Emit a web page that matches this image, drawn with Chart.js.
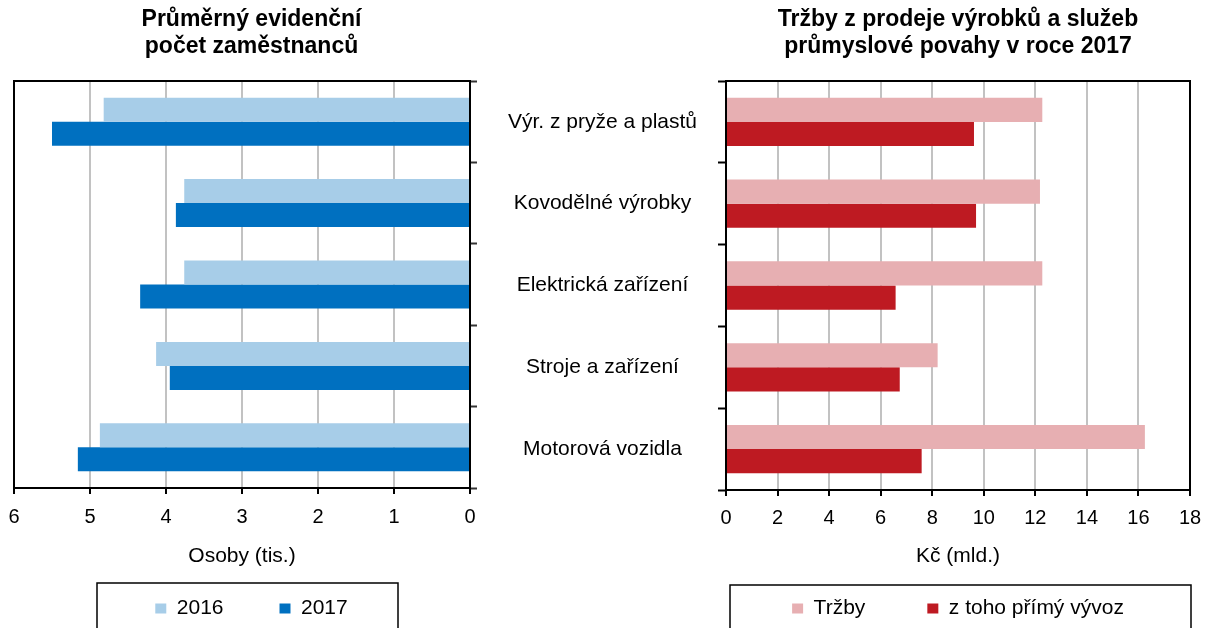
<!DOCTYPE html>
<html>
<head>
<meta charset="utf-8">
<script src="https://cdn.jsdelivr.net/npm/chart.js@4/dist/chart.umd.min.js"></script>
<style>
  html, body { margin: 0; padding: 0; background: #fff; width: 1206px; height: 628px; overflow: hidden; }
  #leftBox { position: absolute; left: 0; top: 0; width: 489px; height: 629px; }
  #rightBox { position: absolute; left: 480px; top: 0; width: 726px; height: 629px; }
</style>
</head>
<body>
<div id="leftBox"><canvas id="leftChart"></canvas></div>
<div id="rightBox"><canvas id="rightChart"></canvas></div>
<script>
// ---- data ----
const categories = ["Výr. z pryže a plastů", "Kovodělné výrobky", "Elektrická zařízení", "Stroje a zařízení", "Motorová vozidla"];
const employees2016 = [4.82, 3.76, 3.76, 4.13, 4.87];
const employees2017 = [5.50, 3.87, 4.34, 3.95, 5.16];
const revenue = [12.27, 12.18, 12.27, 8.21, 16.25];
const directExport = [9.62, 9.70, 6.58, 6.74, 7.59];
const leftTitle = ["Průměrný evidenční", "počet zaměstnanců"];
const rightTitle = ["Tržby z prodeje výrobků a služeb", "průmyslové povahy v roce 2017"];
const leftAxisTitle = "Osoby (tis.)";
const rightAxisTitle = "Kč (mld.)";
const leftLegend = ["2016", "2017"];
const rightLegend = ["Tržby", "z toho přímý vývoz"];

Chart.defaults.font.family = "'Liberation Sans', Arial, sans-serif";
Chart.defaults.font.size = 20;
Chart.defaults.color = '#000';

const framePlugin = {
  id: 'frame',
  afterDatasetsDraw(chart) {
    const {ctx, chartArea: {left, top, right, bottom}} = chart;
    ctx.save();
    ctx.strokeStyle = '#000';
    ctx.lineWidth = 2;
    ctx.strokeRect(left, top, right - left, bottom - top);
    ctx.restore();
  }
};
function legendFramePlugin(box) {
  return {
    id: 'legendFrame',
    afterDraw(chart) {
      const ctx = chart.ctx;
      ctx.save();
      ctx.strokeStyle = '#000';
      ctx.lineWidth = 1.5;
      ctx.strokeRect(box.x, box.y, box.w, box.h);
      ctx.restore();
    }
  };
}
function fixX(height) {
  return function (scale) {
    scale.height = height;
    scale.paddingLeft = 0;
    scale.paddingRight = 0;
  };
}

const gridGray = '#c2c2c2';
const titleFont = { size: 23, weight: 'bold', lineHeight: '27px' };

new Chart(document.getElementById('leftChart'), {
  type: 'bar',
  data: {
    labels: categories,
    datasets: [
      { label: leftLegend[0], data: employees2016, backgroundColor: '#a7cde8', borderWidth: 0 },
      { label: leftLegend[1], data: employees2017, backgroundColor: '#0070c0', borderWidth: 0 }
    ]
  },
  options: {
    indexAxis: 'y',
    responsive: true,
    maintainAspectRatio: false,
    animation: false,
    datasets: { bar: { categoryPercentage: 0.59, barPercentage: 1.0 } },
    layout: { padding: { left: 14, right: 0, top: 0, bottom: 0 } },
    scales: {
      x: {
        reverse: true,
        min: 0, max: 6,
        ticks: { stepSize: 1, padding: 11, font: { size: 20 }, color: '#000' },
        grid: { color: gridGray, lineWidth: 2, tickColor: '#000', tickLength: 6, tickWidth: 2 },
        border: { color: '#000', width: 2 },
        title: { display: true, text: leftAxisTitle, font: { size: 21 }, color: '#000', padding: { top: 0, bottom: -26.6 } },
        afterFit: fixX(54)
      },
      y: {
        position: 'right',
        ticks: { display: false },
        grid: { drawOnChartArea: false, offset: true, tickLength: 7, tickColor: '#333', tickWidth: 2 },
        border: { color: '#000', width: 2 },
        afterFit(scale) { scale.width = 19; }
      }
    },
    plugins: {
      title: {
        display: true, text: leftTitle, color: '#000',
        font: titleFont,
        padding: { top: 6.5, bottom: 20.5 }
      },
      legend: {
        position: 'bottom',
        align: 'center',
        labels: { boxWidth: 11, boxHeight: 10, padding: 56, font: { size: 21 }, color: '#000' }
      },
      tooltip: { enabled: false }
    }
  },
  plugins: [framePlugin, legendFramePlugin({ x: 97, y: 583, w: 301, h: 80 })]
});

new Chart(document.getElementById('rightChart'), {
  type: 'bar',
  data: {
    labels: categories,
    datasets: [
      { label: rightLegend[0], data: revenue, backgroundColor: '#e7afb2', borderWidth: 0 },
      { label: rightLegend[1], data: directExport, backgroundColor: '#be1a22', borderWidth: 0 }
    ]
  },
  options: {
    indexAxis: 'y',
    responsive: true,
    maintainAspectRatio: false,
    animation: false,
    datasets: { bar: { categoryPercentage: 0.59, barPercentage: 1.0 } },
    layout: { padding: { left: 0, right: 16, top: 0, bottom: 0 } },
    scales: {
      x: {
        min: 0, max: 18,
        ticks: { stepSize: 2, padding: 10, font: { size: 20 }, color: '#000' },
        grid: { color: gridGray, lineWidth: 2, tickColor: '#000', tickLength: 6, tickWidth: 2 },
        border: { color: '#000', width: 2 },
        title: { display: true, text: rightAxisTitle, font: { size: 21 }, color: '#000', padding: { top: 0, bottom: -32.6 } },
        afterFit: fixX(46)
      },
      y: {
        position: 'left',
        ticks: { crossAlign: 'center', padding: 21, font: { size: 21 }, color: '#000' },
        grid: { drawOnChartArea: false, offset: true, tickLength: 8, tickColor: '#000', tickWidth: 2 },
        border: { color: '#000', width: 2 },
        afterFit(scale) { scale.width = 246; }
      }
    },
    plugins: {
      title: {
        display: true, text: rightTitle, color: '#000', fullSize: false,
        font: titleFont,
        padding: { top: 6.5, bottom: 20.5 }
      },
      legend: {
        position: 'bottom',
        align: 'center',
        fullSize: false,
        labels: { boxWidth: 11, boxHeight: 10, padding: 62, font: { size: 21 }, color: '#000' }
      },
      tooltip: { enabled: false }
    }
  },
  plugins: [framePlugin, legendFramePlugin({ x: 250, y: 585, w: 461, h: 80 })]
});
</script>
</body>
</html>
